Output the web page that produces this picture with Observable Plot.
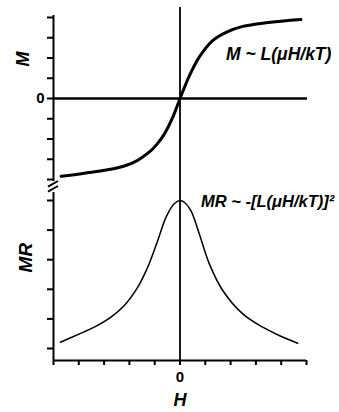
<!DOCTYPE html>
<html><head><meta charset="utf-8">
<script src="https://cdn.jsdelivr.net/npm/d3@7"></script>
<script src="https://cdn.jsdelivr.net/npm/@observablehq/plot@0.6"></script>
<style>
body{margin:0;background:#fff}
#chart{position:relative;width:339px;height:412px}
#chart svg{position:absolute;left:0;overflow:visible;background:transparent}
</style>
</head><body><div id="chart"></div>
<script>
// Magnetization curve (arbitrary units)
const hM      = [-4.70,-3.78,-2.46,-1.81,-1.15,-0.90,-0.62,-0.25,0,0.37,0.76,1.29,1.82,2.48,3.40,4.78];
const mValues = [-3.84,-3.69,-3.42,-3.14,-2.57,-2.24,-1.76,-0.82,0,1.12,2.04,2.86,3.27,3.56,3.74,3.90];
// Magnetoresistance curve (arbitrary units)
const hMR      = [-4.73,-4.04,-3.39,-2.73,-2.20,-1.67,-1.28,-0.88,-0.55,-0.23,0,0.17,0.43,0.76,1.16,1.69,2.48,3.27,3.92,4.65];
const mrValues = [-4.79,-4.53,-4.28,-3.94,-3.55,-2.93,-2.26,-1.35,-0.56,-0.11,0,-0.06,-0.34,-1.12,-2.14,-3.04,-3.83,-4.28,-4.56,-4.82];
// Ticks
const hTicks  = [-5,-4,-3,-2,-1,0,1,2,3,4,5];
const mTicks  = [-4,-3,-2,-1,0,1,2,3,4];
const mrTicks = [0,-1,-2,-3,-4,-5];
// Labels
const labelM  = "M ~ L(μH/kT)";
const labelMR = "MR ~ -[L(μH/kT)]²";
const xTitle = "H", yTitleM = "M", yTitleMR = "MR";

const FONT = "Liberation Sans, Arial, sans-serif";
const hDomain = [-5, 5];
const mDomain = [-4.444, 4.84];
const mrDomain = [-5.405, 0.405];
const mAxisEnds = [-4.1, 4.1];
const mrAxisTop = 0.27;
const zeroLineTop = 4.49;

const mData = hM.map((h, i) => ({h, v: mValues[i]}));
const mrData = hMR.map((h, i) => ({h, v: mrValues[i]}));

const common = {
  width: 339, marginLeft: 53, marginRight: 33,
  x: {domain: hDomain},
  style: {fontFamily: FONT, background: "transparent", overflow: "visible"}
};

const topPlot = Plot.plot({
  ...common,
  height: 188, marginTop: 0, marginBottom: 0,
  y: {domain: mDomain},
  marks: [
    Plot.axisY({ticks: mTicks, tickSize: 6, tickPadding: 3, strokeWidth: 2,
      tickFormat: d => d === 0 ? "0" : "", fontSize: 15, fontWeight: "bold", label: null}),
    Plot.axisX({ticks: [], label: null}),
    Plot.ruleX([hDomain[0]], {y1: mAxisEnds[0], y2: mAxisEnds[1], strokeWidth: 2}),
    Plot.ruleX([0], {y1: zeroLineTop, y2: mDomain[0], strokeWidth: 1.8}),
    Plot.ruleY([0], {x1: hDomain[0], x2: 5.04, strokeWidth: 2.6}),
    Plot.line(mData, {x: "h", y: "v", strokeWidth: 3, curve: "catmull-rom"}),
    Plot.text([{h: 1.82, v: 2.17, t: labelM}], {x: "h", y: "v", text: "t", textAnchor: "start",
      fontSize: 17.5, fontWeight: "bold", fontStyle: "italic"}),
    Plot.text([{h: hDomain[0], v: 1.95, t: yTitleM}], {x: "h", y: "v", text: "t", dx: -30, rotate: -90,
      fontSize: 18, fontWeight: "bold", fontStyle: "italic"})
  ]
});
topPlot.style.top = "0px";

const bottomPlot = Plot.plot({
  ...common,
  height: 224, marginTop: 0, marginBottom: 52,
  y: {domain: mrDomain},
  marks: [
    Plot.axisY({ticks: mrTicks, tickSize: 6, strokeWidth: 2, tickFormat: () => "", label: null}),
    Plot.axisX({ticks: hTicks, tickSize: 5, tickPadding: 6, strokeWidth: 2,
      tickFormat: d => d === 0 ? "0" : "", fontSize: 15, fontWeight: "bold", label: null}),
    Plot.ruleX([hDomain[0]], {y1: mrAxisTop, y2: mrDomain[0], strokeWidth: 2}),
    Plot.ruleY([mrDomain[0]], {x1: hDomain[0], x2: hDomain[1], strokeWidth: 2}),
    Plot.ruleX([0], {strokeWidth: 1.8}),
    Plot.line(mrData, {x: "h", y: "v", strokeWidth: 1.5, curve: "catmull-rom"}),
    Plot.text([{h: 0.83, v: -0.03, t: labelMR}], {x: "h", y: "v", text: "t", textAnchor: "start",
      fontSize: 16.5, fontWeight: "bold", fontStyle: "italic"}),
    Plot.text([{h: hDomain[0], v: -1.93, t: yTitleMR}], {x: "h", y: "v", text: "t", dx: -28, rotate: -90,
      fontSize: 19, fontWeight: "bold", fontStyle: "italic"}),
    Plot.text([{h: 0, v: mrDomain[0], t: xTitle}], {x: "h", y: "v", text: "t", dy: 40,
      fontSize: 18, fontWeight: "bold", fontStyle: "italic"})
  ]
});
bottomPlot.style.top = "188px";

const chart = document.getElementById("chart");
chart.appendChild(topPlot);
chart.appendChild(bottomPlot);

// axis-break slashes on the left axis, positioned with the x scale
const x0 = topPlot.scale("x").apply(hDomain[0]);
const sel = d3.select(topPlot);
[0, 5].forEach(off => {
  sel.append("line")
    .attr("x1", x0 - 5).attr("y1", 186.7 + off)
    .attr("x2", x0 + 5).attr("y2", 181 + off)
    .attr("stroke", "black").attr("stroke-width", 2);
});
</script>
</body></html>
